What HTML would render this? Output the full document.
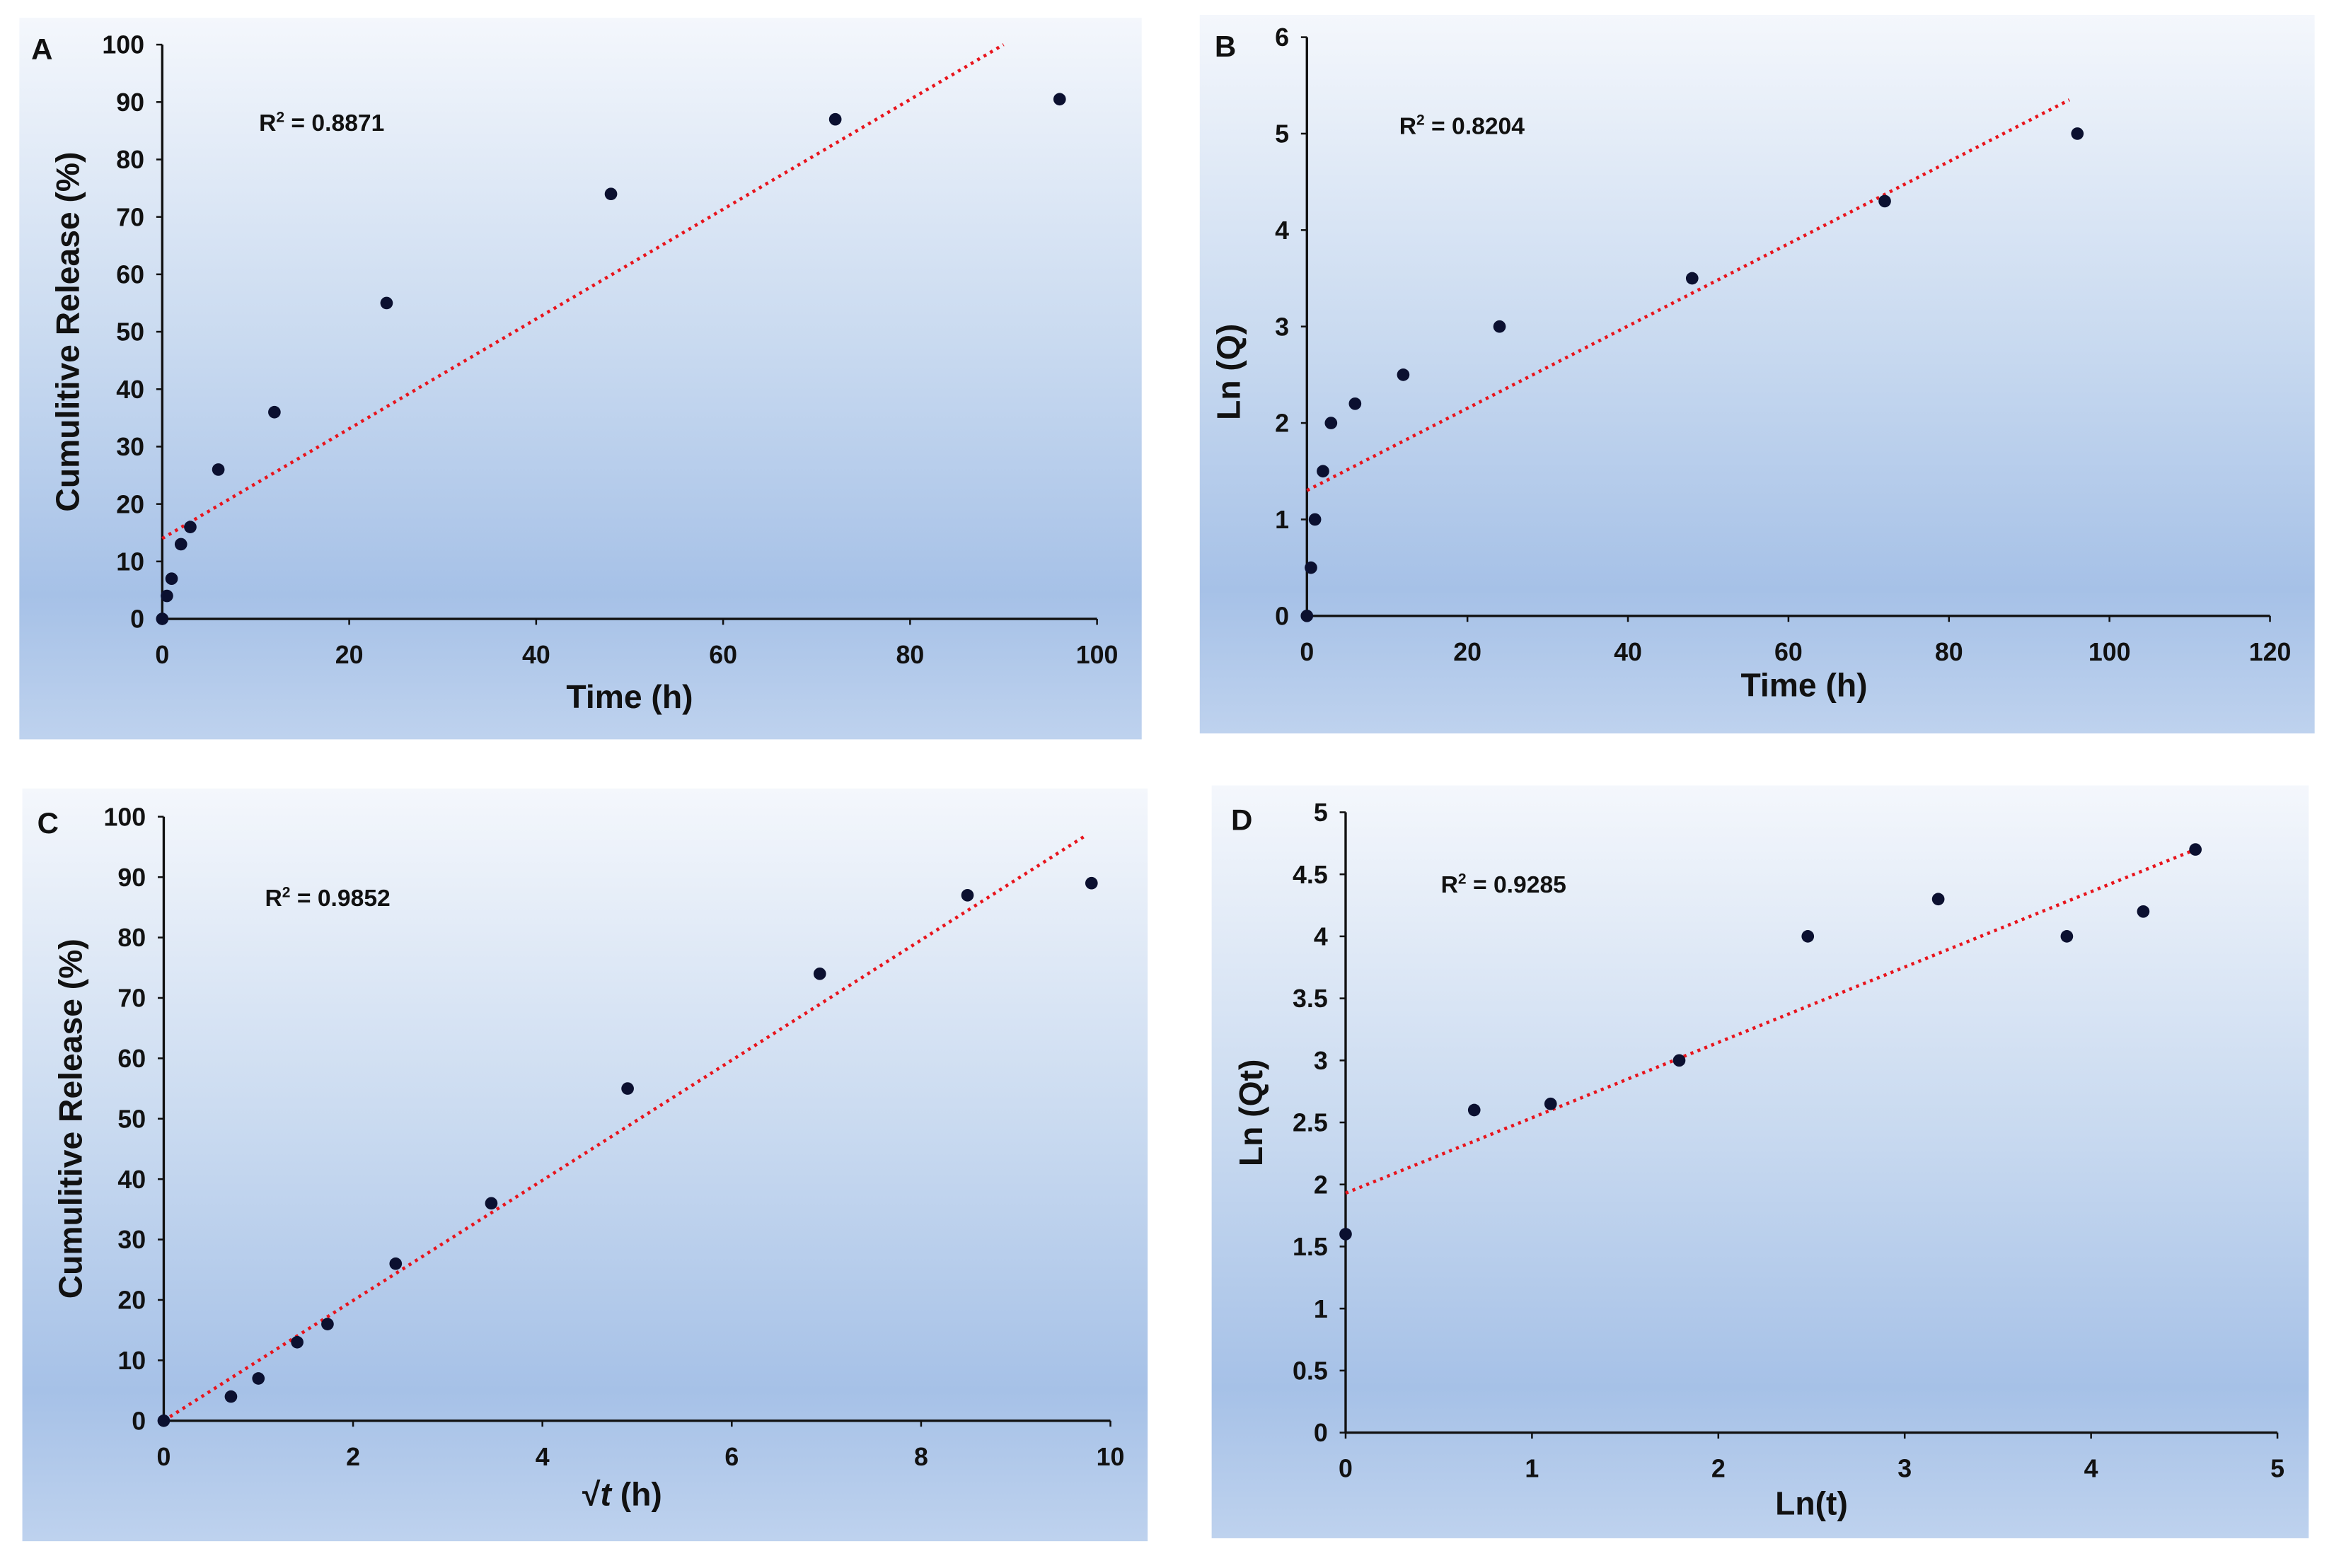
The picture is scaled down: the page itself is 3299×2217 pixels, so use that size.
<!DOCTYPE html>
<html><head><meta charset="utf-8"><style>
html,body{margin:0;padding:0;background:#fff;}
svg{display:block;}
text{font-family:"Liberation Sans",sans-serif;font-weight:bold;fill:#111;}
</style></head><body>
<svg id="fig" width="3299" height="2217" viewBox="0 0 1568 1054" preserveAspectRatio="none" xmlns="http://www.w3.org/2000/svg">
<defs>
<linearGradient id="bg" x1="0" y1="0" x2="0" y2="1">
<stop offset="0" stop-color="#f4f7fc"/>
<stop offset="0.45" stop-color="#c9daf0"/>
<stop offset="0.8" stop-color="#a6c1e7"/>
<stop offset="1" stop-color="#bed2ee"/>
</linearGradient>
</defs>
</svg>
<script>
// Panel A data
const aX = [0,0.5,1,2,3,6,12,24,48,72,96];
const aY = [0,4,7,13,16,26,36,55,74,87,90.5];
const aTrend = [[0,14],[90,100]];
const aXTicks = [0,20,40,60,80,100];
const aYTicks = [0,10,20,30,40,50,60,70,80,90,100];
// Panel B data
const bX = [0,0.5,1,2,3,6,12,24,48,72,96];
const bY = [0,0.5,1,1.5,2,2.2,2.5,3,3.5,4.3,5];
const bTrend = [[0,1.3],[95,5.35]];
const bXTicks = [0,20,40,60,80,100,120];
const bYTicks = [0,1,2,3,4,5,6];
// Panel C data
const cX = [0,0.71,1,1.41,1.73,2.45,3.46,4.9,6.93,8.49,9.8];
const cY = [0,4,7,13,16,26,36,55,74,87,89];
const cTrend = [[0,0],[9.75,97]];
const cXTicks = [0,2,4,6,8,10];
const cYTicks = [0,10,20,30,40,50,60,70,80,90,100];
// Panel D data
const dX = [0,0.69,1.1,1.79,2.48,3.18,3.87,4.28,4.56];
const dY = [1.6,2.6,2.65,3,4,4.3,4,4.2,4.7];
const dTrend = [[0,1.93],[4.56,4.7]];
const dXTicks = [0,1,2,3,4,5];
const dYTicks = [0,0.5,1,1.5,2,2.5,3,3.5,4,4.5,5];

const NS='http://www.w3.org/2000/svg';
const svg=document.getElementById('fig');
function mk(tag,attrs,parent,txt){const e=document.createElementNS(NS,tag);for(const k in attrs)e.setAttribute(k,attrs[k]);if(txt!==undefined)e.textContent=txt;(parent||svg).appendChild(e);return e;}

function panel(cfg){
  const g=mk('g',{});
  
  
  const bgr=mk('rect',{x:cfg.bg[0],y:cfg.bg[1],width:cfg.bg[2]-cfg.bg[0],height:cfg.bg[3]-cfg.bg[1],fill:'url(#bg)'},g);
  
  
  const sx=v=>cfg.x0+(v-cfg.xmin)/(cfg.xmax-cfg.xmin)*(cfg.x1-cfg.x0);
  const sy=v=>cfg.y0-(v-cfg.ymin)/(cfg.ymax-cfg.ymin)*(cfg.y0-cfg.y1);
  const ya=mk('line',{x1:cfg.x0,y1:cfg.y1,x2:cfg.x0,y2:cfg.y0,stroke:'#111','stroke-width':1.6},g);
  
  
  const xa=mk('line',{x1:cfg.x0,y1:cfg.y0,x2:cfg.x1,y2:cfg.y0,stroke:'#111','stroke-width':1.6},g);
  
  
  cfg.xt.forEach(v=>{
    mk('line',{x1:sx(v),y1:cfg.y0,x2:sx(v),y2:cfg.y0+4,stroke:'#111','stroke-width':1.2},g);
    const t=mk('text',{x:sx(v),y:cfg.y0+30,'font-size':17,'text-anchor':'middle'},g,String(v));
    
    
  });
  cfg.yt.forEach(v=>{
    mk('line',{x1:cfg.x0-4,y1:sy(v),x2:cfg.x0,y2:sy(v),stroke:'#111','stroke-width':1.2},g);
    const t=mk('text',{x:cfg.x0-12,y:sy(v)+6,'font-size':17,'text-anchor':'end'},g,String(v));
    
    
  });
  const tl=mk('line',{x1:sx(cfg.trend[0][0]),y1:sy(cfg.trend[0][1]),x2:sx(cfg.trend[1][0]),y2:sy(cfg.trend[1][1]),stroke:'#e8141c','stroke-width':2.2,'stroke-dasharray':'2 3'},g);
  
  
  cfg.xs.forEach((v,i)=>{
    const c=mk('circle',{cx:sx(v),cy:sy(cfg.ys[i]),r:4.2,fill:'#0b1030'},g);
    
    
  });
  const lab=mk('text',{x:cfg.lab[0],y:cfg.lab[1],'font-size':20},g,cfg.id);
  
  
  const r=mk('text',{x:cfg.r2[0],y:cfg.r2[1],'font-size':16},g);
  
  
  r.innerHTML='R<tspan font-size="10" dy="-6">2</tspan><tspan dy="6"> = '+cfg.r2[2]+'</tspan>';
  const xt=mk('text',{x:cfg.xl[0],y:cfg.xl[1],'font-size':22,'text-anchor':'middle'},g);
  
  
  xt.innerHTML=cfg.xl[2];
  const yt=mk('text',{x:0,y:0,'font-size':22,'text-anchor':'middle',transform:'translate('+cfg.yl[0]+','+cfg.yl[1]+') rotate(-90)'},g,cfg.yl[2]);
  
  
}

panel({id:'A',bg:[13,12,767,497],x0:109,x1:737,y0:416,y1:30,xmin:0,xmax:100,ymin:0,ymax:100,xt:aXTicks,yt:aYTicks,xs:aX,ys:aY,trend:aTrend,lab:[21,40],r2:[174,88,'0.8871'],xl:[423,476,'Time (h)'],yl:[53,223,'Cumulitive Release (%)']});
panel({id:'B',bg:[806,10,1555,493],x0:878,x1:1525,y0:414,y1:25,xmin:0,xmax:120,ymin:0,ymax:6,xt:bXTicks,yt:bYTicks,xs:bX,ys:bY,trend:bTrend,lab:[816,38],r2:[940,90,'0.8204'],xl:[1212,468,'Time (h)'],yl:[833,250,'Ln (Q)']});
panel({id:'C',bg:[15,530,771,1036],x0:110,x1:746,y0:955,y1:549,xmin:0,xmax:10,ymin:0,ymax:100,xt:cXTicks,yt:cYTicks,xs:cX,ys:cY,trend:cTrend,lab:[25,560],r2:[178,609,'0.9852'],xl:[418,1012,'√<tspan font-style="italic">t</tspan> (h)'],yl:[55,752,'Cumulitive Release (%)']});
panel({id:'D',bg:[814,528,1551,1034],x0:904,x1:1530,y0:963,y1:546,xmin:0,xmax:5,ymin:0,ymax:5,xt:dXTicks,yt:dYTicks,xs:dX,ys:dY,trend:dTrend,lab:[827,558],r2:[968,600,'0.9285'],xl:[1217,1018,'Ln(t)'],yl:[848,748,'Ln (Qt)']});
</script>
</body></html>
